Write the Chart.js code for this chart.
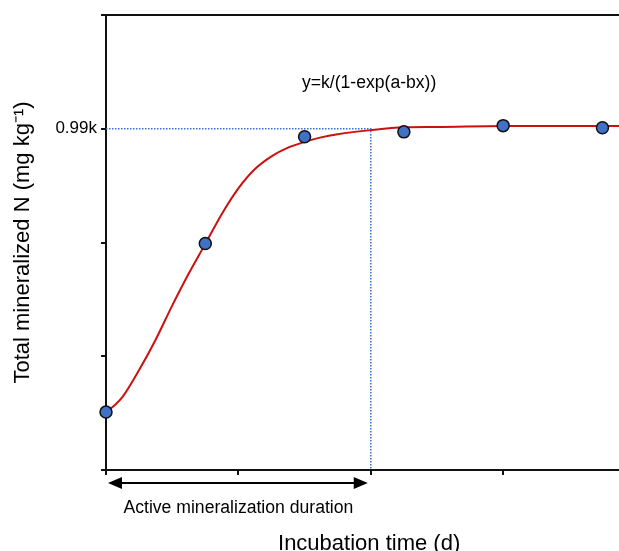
<!DOCTYPE html>
<html>
<head>
<meta charset="utf-8">
<script src="https://cdn.jsdelivr.net/npm/chart.js@4/dist/chart.umd.min.js"></script>
<style>
  body { margin: 0; background: #fff; }
  canvas { display: block; }
</style>
</head>
<body>
<canvas id="myChart" width="619" height="551"></canvas>
<script>
// measured points (incubation day, total N in units of k)
const days = [0, 3, 6, 9, 12, 15];
const mineralN = [0.168, 0.657, 0.967, 0.981, 0.999, 0.993];

// fitted curve
const fitX = [0, 0.25, 0.5, 1, 1.5, 2, 2.5, 3, 3.5, 4, 4.5, 5, 5.5, 6, 6.5, 7, 8, 9, 10, 12, 15.5];
const fitY = [0.168, 0.187, 0.212, 0.290, 0.378, 0.477, 0.570, 0.656, 0.743, 0.817, 0.873, 0.910, 0.935, 0.952, 0.965, 0.974, 0.986, 0.994, 0.995, 0.998, 0.998];

// 0.99k reference and the end of active mineralization
const refLevel = 0.99;
const activeEnd = 8;
const yTickLabels = { '0.99': '0.99k' };

const FONT = '"Liberation Sans", Arial, Helvetica, sans-serif';

function toPoints(xs, ys) {
  return xs.map((x, i) => ({ x: x, y: ys[i] }));
}

const annotations = {
  id: 'annotations',
  afterDraw(chart) {
    const ctx = chart.ctx;
    const xs = chart.scales.x;
    const ys = chart.scales.y;
    const area = chart.chartArea;

    // double arrow under the axis
    const x0 = xs.getPixelForValue(0) + 2;
    const x1 = xs.getPixelForValue(activeEnd) - 3;
    const ay = area.bottom + 13;
    ctx.save();
    ctx.strokeStyle = '#000';
    ctx.fillStyle = '#000';
    ctx.lineWidth = 2;
    ctx.beginPath();
    ctx.moveTo(x0 + 10, ay);
    ctx.lineTo(x1 - 10, ay);
    ctx.stroke();
    ctx.beginPath();
    ctx.moveTo(x0, ay);
    ctx.lineTo(x0 + 14, ay - 6);
    ctx.lineTo(x0 + 14, ay + 6);
    ctx.closePath();
    ctx.fill();
    ctx.beginPath();
    ctx.moveTo(x1, ay);
    ctx.lineTo(x1 - 14, ay - 6);
    ctx.lineTo(x1 - 14, ay + 6);
    ctx.closePath();
    ctx.fill();

    ctx.font = '17.6px ' + FONT;
    ctx.textAlign = 'center';
    ctx.textBaseline = 'middle';
    ctx.fillText('Active mineralization duration', xs.getPixelForValue(activeEnd / 2), area.bottom + 38);
    ctx.fillText('y=k/(1-exp(a-bx))', xs.getPixelForValue(7.95), ys.getPixelForValue(1.123));

    // axis title, offset like the original figure
    ctx.font = '22px ' + FONT;
    ctx.fillText('Incubation time (d)', xs.getPixelForValue(7.95), area.bottom + 74);
    ctx.restore();
  }
};

const ctx = document.getElementById('myChart');
const myChart = new Chart(ctx, {
  type: 'line',
  data: {
    datasets: [
      {
        label: 'measured',
        data: toPoints(days, mineralN),
        showLine: false,
        pointRadius: 6,
        pointBorderWidth: 1.5,
        pointBackgroundColor: '#3f71c6',
        pointBorderColor: '#111',
        clip: false
      },
      {
        label: 'fit',
        data: toPoints(fitX, fitY),
        borderColor: '#cc1010',
        borderWidth: 2,
        pointRadius: 0,
        cubicInterpolationMode: 'monotone',
        fill: false
      },
      {
        label: 'guide',
        data: [{ x: 0, y: refLevel }, { x: activeEnd, y: refLevel }, { x: activeEnd, y: 0 }],
        borderColor: '#3a6fd8',
        borderWidth: 1.5,
        borderDash: [1.5, 1.5],
        pointRadius: 0,
        tension: 0,
        fill: false
      }
    ]
  },
  options: {
    responsive: false,
    animation: false,
    devicePixelRatio: 1,
    layout: { padding: 0, autoPadding: false },
    plugins: {
      legend: { display: false },
      tooltip: { enabled: false }
    },
    scales: {
      x: {
        type: 'linear',
        min: 0,
        max: 15.5,
        afterFit: (scale) => { scale.height = 81; },
        border: { color: '#111', width: 2 },
        grid: { drawOnChartArea: false, drawTicks: true, tickLength: 5, color: '#111', lineWidth: 2 },
        ticks: { stepSize: 4, includeBounds: false, callback: () => '' }
      },
      xTop: {
        type: 'linear',
        position: 'top',
        min: 0,
        max: 15.5,
        afterFit: (scale) => { scale.height = 15; },
        border: { color: '#111', width: 2 },
        grid: { display: false, drawTicks: false },
        ticks: { display: false }
      },
      y: {
        min: 0,
        max: 1.32,
        afterFit: (scale) => { scale.width = 106; },
        border: { color: '#111', width: 2 },
        grid: { drawOnChartArea: false, drawTicks: true, tickLength: 5, color: '#111', lineWidth: 2 },
        ticks: {
          stepSize: 0.33,
          padding: 4,
          color: '#000',
          font: { family: FONT, size: 17 },
          callback: (v) => yTickLabels[(Math.round(v * 100) / 100).toString()] || ''
        },
        title: {
          display: true,
          text: 'Total mineralized N (mg kg\u207B\u00B9)',
          color: '#000',
          font: { family: FONT, size: 22, lineHeight: 1.2 },
          padding: { top: 10, bottom: 0 }
        }
      }
    }
  },
  plugins: [annotations]
});
</script>
</body>
</html>
